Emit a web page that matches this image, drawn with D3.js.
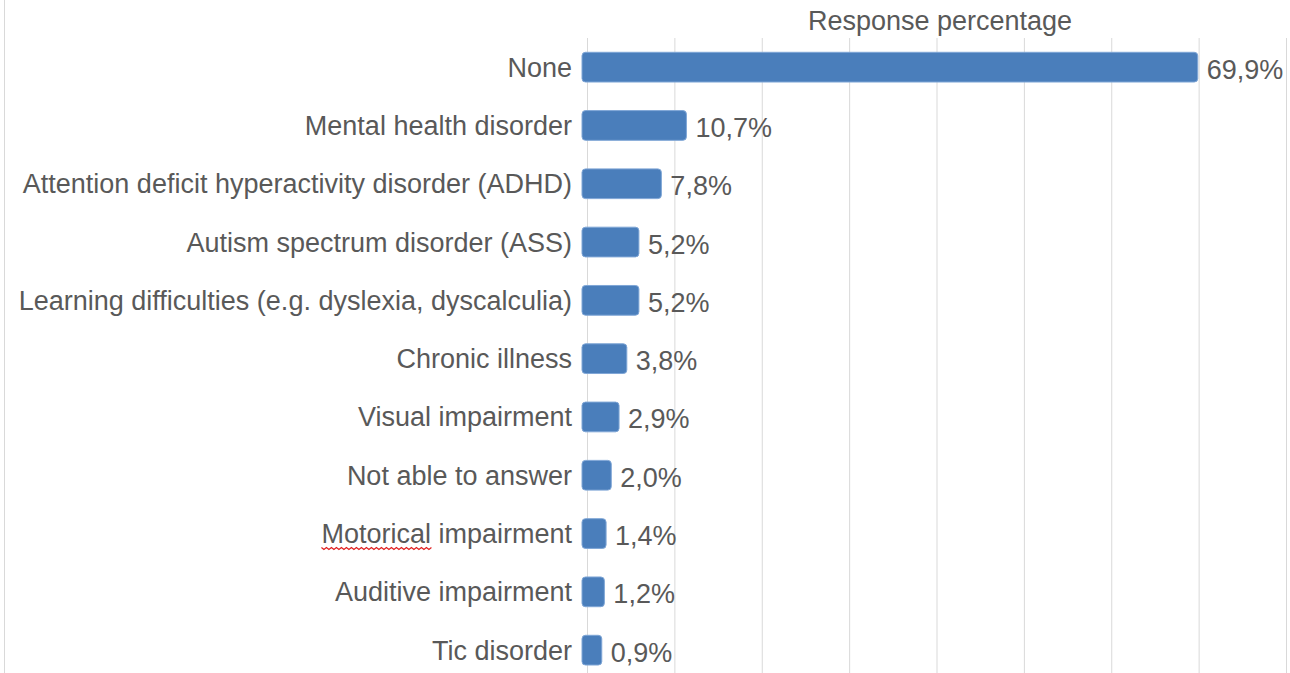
<!DOCTYPE html>
<html>
<head>
<meta charset="utf-8">
<script src="https://cdn.jsdelivr.net/npm/d3@7"></script>
<style>
  body { margin: 0; background: #fff; }
  text { font-family: "Liberation Sans", Arial, sans-serif; fill: #595959; font-size: 27px; }
</style>
</head>
<body>
<script>
// data
const categories = [
  'None',
  'Mental health disorder',
  'Attention deficit hyperactivity disorder (ADHD)',
  'Autism spectrum disorder (ASS)',
  'Learning difficulties (e.g. dyslexia, dyscalculia)',
  'Chronic illness',
  'Visual impairment',
  'Not able to answer',
  'Motorical impairment',
  'Auditive impairment',
  'Tic disorder'
];
const values = [69.9, 10.7, 7.8, 5.2, 5.2, 3.8, 2.9, 2.0, 1.4, 1.2, 0.9];
const gridTicks = [0, 10, 20, 30, 40, 50, 60, 70, 80];
const title = 'Response percentage';

const width = 1290, height = 673;
const plotTop = 38;

const svg = d3.select('body').append('svg')
  .attr('width', width)
  .attr('height', height);

// gridlines and bars don't quite line up in the original screenshot
const x = d3.scaleLinear().domain([0, 80]).range([587, 1286]);
const xBar = d3.scaleLinear().domain([0, 80]).range([594, 1285]);
const y = d3.scaleBand()
  .domain(categories)
  .range([plotTop, plotTop + 58.3 * categories.length])
  .paddingInner(0.49)
  .paddingOuter(0.245);

// left frame line
svg.append('line')
  .attr('x1', 4.5).attr('x2', 4.5)
  .attr('y1', 0).attr('y2', height)
  .attr('stroke', '#d9d9d9');

// vertical gridlines
svg.append('g')
  .attr('class', 'grid')
  .attr('transform', `translate(0, ${plotTop})`)
  .call(d3.axisBottom(x).tickValues(gridTicks).tickSize(height - plotTop).tickFormat(''))
  .call(g => g.select('.domain').remove())
  .call(g => g.selectAll('line').attr('stroke', '#d9d9d9'));

svg.append('text')
  .attr('x', 940)
  .attr('y', 30)
  .attr('text-anchor', 'middle')
  .text(title);

const rows = svg.selectAll('.row')
  .data(categories.map((c, i) => ({ c, v: values[i] })))
  .enter()
  .append('g')
  .attr('class', 'row');

const barStart = x(0) - 5;

rows.append('rect')
  .attr('x', barStart)
  .attr('y', d => y(d.c))
  .attr('width', d => xBar(d.v) - barStart)
  .attr('height', y.bandwidth())
  .attr('rx', 3.5)
  .attr('fill', '#4a7ebb')
  .attr('stroke', '#7fa6d6')
  .attr('stroke-width', 1);

const labels = rows.append('text')
  .attr('x', x(0) - 15)
  .attr('y', d => y(d.c) + y.bandwidth() / 2)
  .attr('dy', '0.35em')
  .attr('text-anchor', 'end')
  .text(d => d.c);

rows.append('text')
  .attr('x', d => xBar(d.v) + 9)
  .attr('y', d => y(d.c) + y.bandwidth() / 2 + 2)
  .attr('dy', '0.35em')
  .text(d => d.v.toFixed(1).replace('.', ',') + '%');

// red spell-check squiggle under "Motorical"
labels.filter(d => d.c === 'Motorical impairment').each(function (d) {
  const x0 = this.getStartPositionOfChar(0).x;
  const x1 = this.getEndPositionOfChar(8).x;
  const yy = y(d.c) + y.bandwidth() / 2 + 14;
  let p = `M${x0},${yy}`;
  for (let xx = x0, k = 0; xx < x1; xx += 2.5, k++) {
    p += ` L${xx + 2.5},${yy + (k % 2 ? 0 : 2)}`;
  }
  svg.append('path')
    .attr('d', p)
    .attr('fill', 'none')
    .attr('stroke', '#e02020')
    .attr('stroke-width', 1.2);
});
</script>
</body>
</html>
